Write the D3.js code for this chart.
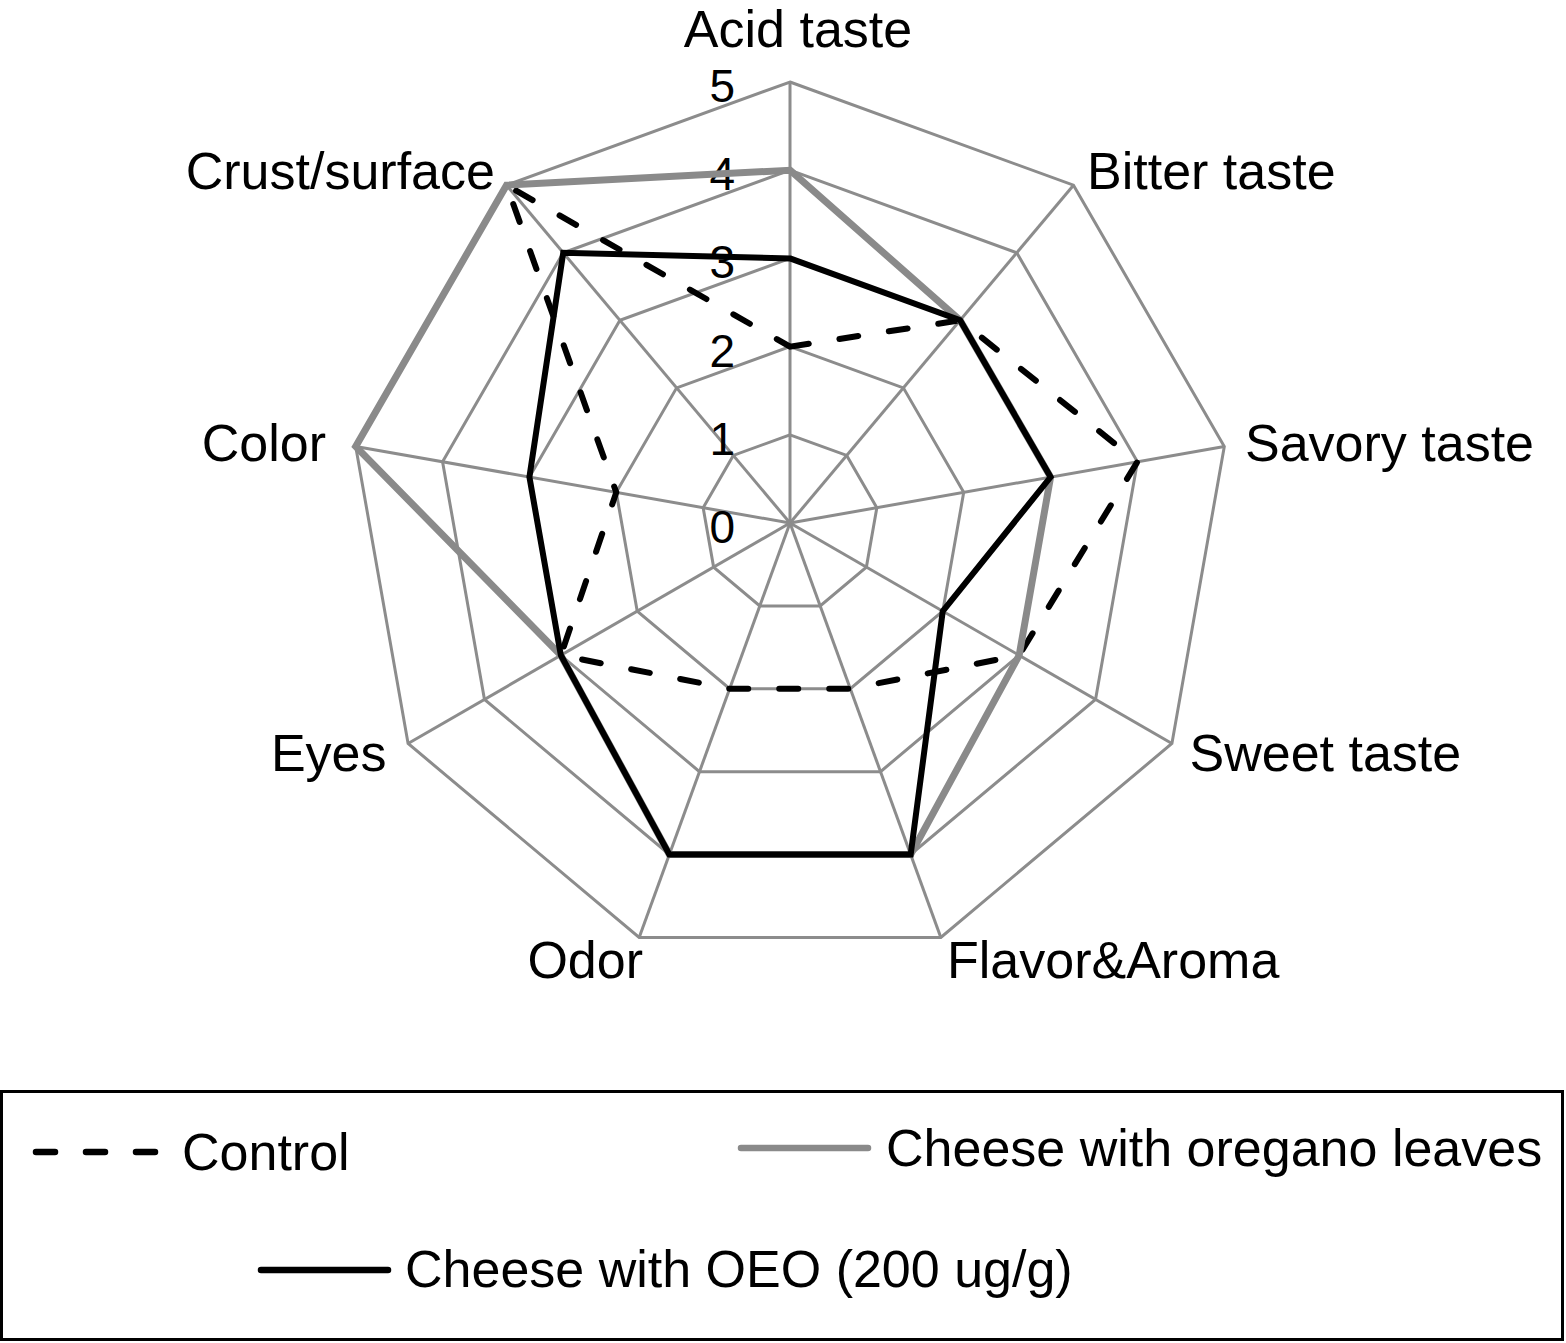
<!DOCTYPE html>
<html>
<head>
<meta charset="utf-8">
<script src="https://cdn.jsdelivr.net/npm/d3@7/dist/d3.min.js"></script>
<style>
  html, body { margin: 0; padding: 0; background: #fff; }
  svg text { font-family: "Liberation Sans", Arial, Helvetica, sans-serif; fill: #000; }
</style>
</head>
<body>
<svg id="chart" width="1566" height="1343"></svg>
<script>
// ---- data ----
const categories = ["Acid taste", "Bitter taste", "Savory taste", "Sweet taste", "Flavor&Aroma", "Odor", "Eyes", "Color", "Crust/surface"];
const tickValues = [0, 1, 2, 3, 4, 5];
const controlValues  = [2, 3, 4, 3, 2, 2, 3, 2, 5];
const oreganoValues  = [4, 3, 3, 3, 4, 4, 3, 5, 5];
const oeoValues      = [3, 3, 3, 2, 4, 4, 3, 3, 4];
const seriesNames = ["Control", "Cheese with oregano leaves", "Cheese with OEO (200 ug/g)"];

// ---- layout ----
const cx = 790, cy = 523, R = 441;
const svg = d3.select("#chart");
const r = d3.scaleLinear().domain([0, 5]).range([0, R]);
const angle = d3.scaleLinear().domain([0, categories.length]).range([0, 2 * Math.PI]);
const pt = (i, v) => [cx + r(v) * Math.sin(angle(i)), cy - r(v) * Math.cos(angle(i))];

const gridColor = "#8c8c8c";
const g = svg.append("g");

// rings
tickValues.filter(t => t > 0).forEach(t => {
  g.append("path")
    .attr("d", d3.line()(categories.map((c, i) => pt(i, t))) + "Z")
    .attr("fill", "none").attr("stroke", gridColor).attr("stroke-width", 3);
});
// spokes
categories.forEach((c, i) => {
  const [x, y] = pt(i, 5);
  g.append("line").attr("x1", cx).attr("y1", cy).attr("x2", x).attr("y2", y)
    .attr("stroke", gridColor).attr("stroke-width", 3);
});

// tick labels
tickValues.forEach(t => {
  g.append("text").attr("x", cx - 55).attr("y", cy - r(t) + 20)
    .attr("text-anchor", "end").attr("font-size", 46).text(t);
});

// axis labels
categories.forEach((c, i) => {
  const a = angle(i);
  const s = Math.sin(a), co = Math.cos(a);
  let x, y, anchor;
  if (i === 0) {
    x = cx + 8; y = cy - R - 35; anchor = "middle";
  } else {
    const d = R + 18;
    x = cx + d * s; y = cy - d * co + 18;
    anchor = s > 0 ? "start" : "end";
    if (Math.abs(co) < 0.3) x += s > 0 ? 3 : -12;
    if (co < -0.9) { y += 6; if (s < 0) x += 10; }
    if (co < -0.3 && co > -0.9) x += s > 0 ? 2 : -6;
    if (co > 0.3) x += s > 0 ? 2 : 0;
  }
  g.append("text").attr("x", x).attr("y", y).attr("text-anchor", anchor)
    .attr("font-size", 52).text(c);
});

// series
const radarLine = vals => d3.line()(vals.map((v, i) => pt(i, v))) + "Z";
const styles = [
  { vals: controlValues, stroke: "#000", width: 6, dash: "19,31", cap: "round" },
  { vals: oreganoValues, stroke: "#8a8a8a", width: 7, dash: null, cap: "butt" },
  { vals: oeoValues, stroke: "#000", width: 6, dash: null, cap: "butt" }
];
styles.forEach(st => {
  const p = g.append("path").attr("d", radarLine(st.vals))
    .attr("fill", "none").attr("stroke", st.stroke).attr("stroke-width", st.width)
    .attr("stroke-linejoin", "miter").attr("stroke-linecap", st.cap);
  if (st.dash) p.attr("stroke-dasharray", st.dash);
});

// legend
const lg = svg.append("g");
lg.append("rect").attr("x", 1.5).attr("y", 1091.5).attr("width", 1561)
  .attr("height", 248).attr("fill", "none").attr("stroke", "#000").attr("stroke-width", 3);
const legendItems = [
  { x1: 36, x2: 165, y: 1152, tx: 182, ty: 1170, st: styles[0] },
  { x1: 741, x2: 868, y: 1148, tx: 886, ty: 1166, st: styles[1] },
  { x1: 261, x2: 388, y: 1270, tx: 405, ty: 1287, st: styles[2] }
];
legendItems.forEach((it, k) => {
  const l = lg.append("line").attr("x1", it.x1).attr("x2", it.x2).attr("y1", it.y).attr("y2", it.y)
    .attr("stroke", it.st.stroke).attr("stroke-width", 6.5).attr("stroke-linecap", "round");
  if (it.st.dash) l.attr("stroke-dasharray", "19,31");
  lg.append("text").attr("x", it.tx).attr("y", it.ty).attr("font-size", 52).text(seriesNames[k]);
});
</script>
</body>
</html>
